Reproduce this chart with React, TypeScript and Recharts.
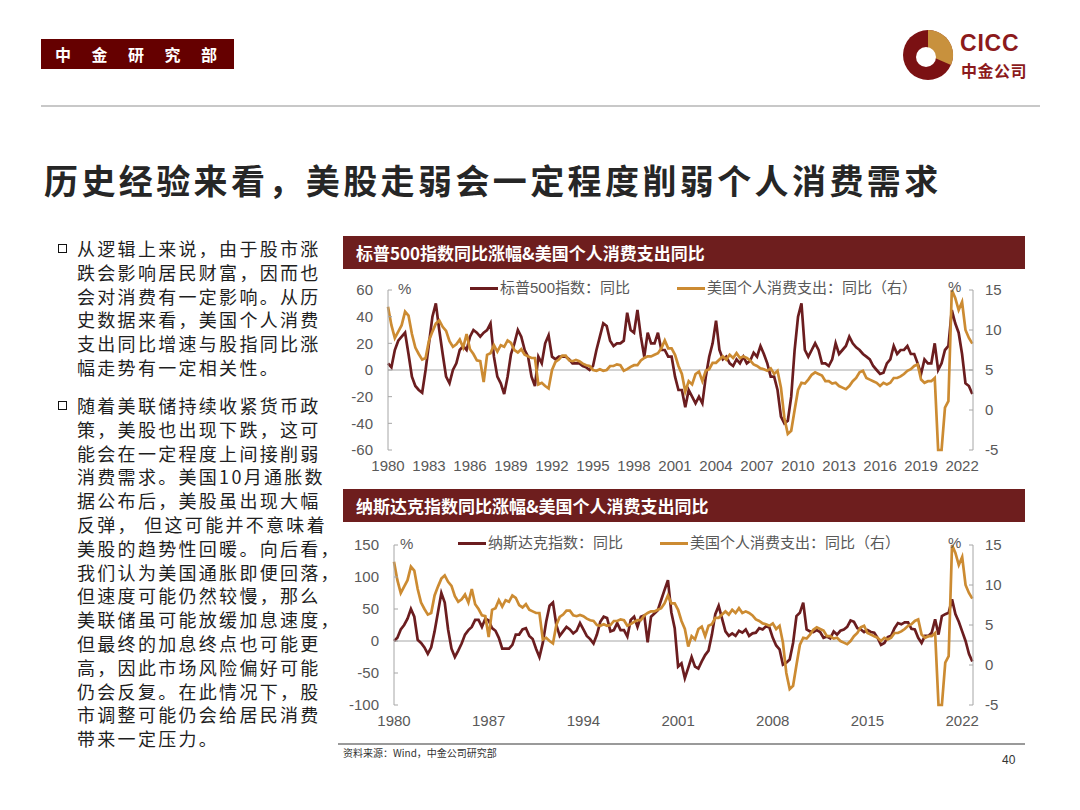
import React from 'react';
import { LineChart, Line, XAxis, YAxis, ReferenceLine, Legend } from 'recharts';

// quarterly readings, 1980Q1 .. 2022Q4
const START_YEAR = 1980;

const spxYoy = [
  5, 2, 15, 22,
  25, 28, 12, -5,
  -12, -15, -17, 0,
  20, 40, 50, 30,
  12, -5, -10, 0,
  5, 15, 18, 15,
  25, 30, 28, 25,
  28, 30, 35, 10,
  -5, -10, -18, -5,
  12, 20, 30, 25,
  15, 10, -5, -12,
  10, 5, 20, 26,
  10, 8, 10, 10,
  10, 8, 5, 5,
  5, 3, 2, 0,
  3, 15, 25, 35,
  33, 22, 18, 20,
  20, 22, 43, 30,
  28, 45, 25, 10,
  28, 20, 20, 28,
  15, 15, 10, 10,
  -5, -15, -15, -28,
  -15, -20, -25, -20,
  -25, -5, 10, 20,
  37, 15, 8, 10,
  5, 3, 8, 5,
  10, 5, 7, 13,
  10, 18, 12, 5,
  -5, -5, -15, -35,
  -40, -38, -20, 15,
  40, 50, 15, 10,
  15, 20, 15, 5,
  5, 3, 8, 20,
  12, 15, 18, 25,
  20, 17, 15, 12,
  10, 8, 3, 0,
  -3, -2, 5, 8,
  18, 12, 15, 15,
  18, 12, 12, 5,
  -3, 8, 5, 5,
  20, 0, 5, 15,
  18, 45, 35, 28,
  12, -10, -12, -18,
];

const ndxYoy = [
  0, 5, 18, 25,
  35, 50, 38, 2,
  -3, -10, -20, -10,
  15, 45, 75, 60,
  18, -12, -25, -15,
  -4, 10, 17, 22,
  33, 33, 22, 35,
  32, 20, 16, 5,
  -12, -12, -12, -6,
  10, 10, 18, 20,
  8, 3, -12, -25,
  -3, 30, 55, 60,
  25, 8, 15, 22,
  18, 12, 16, 28,
  18, 8, 3, -4,
  10, 30, 38, 36,
  15, 17, 28, 17,
  17, 7, 33, 38,
  22, 38, 40, -2,
  38, 43, 48, 64,
  80, 95, 45, 20,
  -40, -35, -58, -42,
  -25, -40, -43, -32,
  -22, -15, 10, 42,
  55, 35, 15, 8,
  12, 8, 16, 13,
  18, 8, 12, 13,
  20, 18, 23, 21,
  5, -7, -13, -37,
  -34, -29, -3, 39,
  44, 60, 18, 15,
  14, 17, 14, 5,
  7, 4, 15, 10,
  16, 18, 22, 32,
  30, 20, 18, 14,
  17, 14, 13, 5,
  -6, -3, 6, 8,
  20, 28, 26, 29,
  29, 19, 18, 5,
  -3, 8, 8, 13,
  34, 10, 39, 42,
  44, 65, 42, 30,
  15, 0, -20, -32,
];

const pceYoy = [
  12.9, 10.6, 9.0, 9.8,
  10.6, 12.3, 11.8, 9.5,
  7.8, 7.0, 6.3, 6.5,
  8.7, 9.8, 10.8, 11.2,
  10.4, 9.9, 8.6, 7.9,
  8.2, 8.8, 7.8, 9.5,
  7.6, 7.0, 6.2, 6.1,
  3.5, 6.9, 7.1, 8.1,
  7.3, 8.1, 7.9, 8.7,
  8.4, 7.5, 7.2, 7.6,
  6.9, 6.7, 6.5, 6.5,
  3.2, 3.4, 3.0, 2.7,
  5.0, 6.0, 6.3, 6.8,
  6.8, 6.2, 6.1, 6.25,
  6.1, 5.8, 5.6, 5.5,
  5.0, 4.9, 5.1, 4.9,
  5.0, 5.5, 5.5, 5.7,
  5.6, 4.9, 5.1, 5.4,
  5.6, 5.6, 6.2, 6.5,
  6.7, 6.7, 6.9, 7.1,
  7.7, 8.7, 7.7, 7.7,
  6.9, 5.5, 4.5, 2.3,
  3.6, 3.2, 4.5, 4.8,
  3.6, 4.9, 5.1, 5.9,
  5.9, 6.3, 6.7, 6.3,
  6.9, 6.5, 7.1, 6.5,
  6.7, 6.5, 6.2, 5.7,
  5.5, 5.2, 5.1, 4.9,
  5.2, 4.5, 4.9, 2.8,
  -1.0, -3.0, -2.6, 0.0,
  2.5, 3.4, 3.3, 3.8,
  4.4, 4.7, 4.5, 4.3,
  3.6, 3.6, 3.3, 3.4,
  3.0, 2.8, 2.6, 3.0,
  3.6, 4.0, 4.7, 4.9,
  4.0, 3.8, 3.6, 3.4,
  3.0, 3.4, 3.2, 3.4,
  4.0, 4.0, 4.2, 4.5,
  4.9, 5.1, 5.5, 5.7,
  3.8, 3.4, 3.6, 3.6,
  4.0, -5, -5, 0.3,
  1.1, 15, 14.0, 12.5,
  13.5, 10.0, 9.0, 8.3,
];

const yearTicks1 = [1980, 1983, 1986, 1989, 1992, 1995, 1998, 2001, 2004, 2007, 2010, 2013, 2016, 2019, 2022];
const yearTicks2 = [1980, 1987, 1994, 2001, 2008, 2015, 2022];
const spxTicks = [-60, -40, -20, 0, 20, 40, 60];
const ndxTicks = [-100, -50, 0, 50, 100, 150];
const pceTicks = [-5, 0, 5, 10, 15];

const quarters = pceYoy.map((_, i) => START_YEAR + i / 4);
const spxData = quarters.map((t, i) => ({ t, stock: spxYoy[i], pce: pceYoy[i] }));
const ndxData = quarters.map((t, i) => ({ t, stock: ndxYoy[i], pce: pceYoy[i] }));

const para1 = [
  '从逻辑上来说，由于股市涨',
  '跌会影响居民财富，因而也',
  '会对消费有一定影响。从历',
  '史数据来看，美国个人消费',
  '支出同比增速与股指同比涨',
  '幅走势有一定相关性。',
];
const para2 = [
  '随着美联储持续收紧货币政',
  '策，美股也出现下跌，这可',
  '能会在一定程度上间接削弱',
  '消费需求。美国10月通胀数',
  '据公布后，美股虽出现大幅',
  '反弹， 但这可能并不意味着',
  '美股的趋势性回暖。向后看，',
  '我们认为美国通胀即便回落，',
  '但速度可能仍然较慢，那么',
  '美联储虽可能放缓加息速度，',
  '但最终的加息终点也可能更',
  '高，因此市场风险偏好可能',
  '仍会反复。在此情况下，股',
  '市调整可能仍会给居民消费',
  '带来一定压力。',
];

const DARK = '#6b1d1f';
const GOLD = '#cc8b32';
const AXIS = '#a6a6a6';
const LABEL = '#595959';
const CJK = '"Noto Sans CJK SC", sans-serif';
const NUM = '"Liberation Sans", "Noto Sans CJK SC", sans-serif';

function LegendRow({ payload, gap }: any) {
  return (
    <div style={{ display: 'flex', alignItems: 'center', whiteSpace: 'nowrap', fontSize: 15, color: LABEL, lineHeight: '20px' }}>
      {(payload || []).map((p: any, i: number) => (
        <div key={p.value} style={{ display: 'flex', alignItems: 'center', marginLeft: i === 0 ? 0 : gap }}>
          <span style={{ display: 'inline-block', width: 28, height: 3, background: p.color, marginRight: 2 }} />
          <span>{p.value}</span>
        </div>
      ))}
    </div>
  );
}

function DualChart({ top, data, stockName, stockDomain, stockTicks, yearTicks, leftWidth, legendLeft, legendGap }: any) {
  return (
    <div style={{ position: 'absolute', left: 336, top, fontFamily: NUM }}>
      <LineChart width={677} height={205} data={data} margin={{ top: 20, right: 0, bottom: 0, left: 0 }}>
        <XAxis
          dataKey="t"
          type="number"
          domain={[1980, 2022.8]}
          ticks={yearTicks}
          interval={0}
          axisLine={false}
          tickLine={false}
          tickMargin={4}
          height={25}
          tick={{ fill: LABEL, fontSize: 15 }}
        />
        <YAxis
          yAxisId="left"
          domain={stockDomain}
          ticks={stockTicks}
          interval={0}
          width={leftWidth}
          axisLine={{ stroke: AXIS }}
          tickLine={{ stroke: AXIS }}
          tickSize={-4}
          tickMargin={19}
          tick={{ fill: LABEL, fontSize: 15 }}
        />
        <YAxis
          yAxisId="right"
          orientation="right"
          domain={[-5, 15]}
          ticks={pceTicks}
          interval={0}
          width={40}
          axisLine={{ stroke: AXIS }}
          tickLine={{ stroke: AXIS }}
          tickSize={-4}
          tickMargin={16}
          tick={{ fill: LABEL, fontSize: 15 }}
        />
        <ReferenceLine yAxisId="left" y={0} stroke={AXIS} strokeWidth={1} />
        <Legend
          layout="horizontal"
          verticalAlign="middle"
          align="center"
          wrapperStyle={{ top: 8, left: legendLeft, width: 'auto', fontFamily: NUM }}
          content={(props: any) => <LegendRow {...props} gap={legendGap} />}
        />
        <Line yAxisId="left" dataKey="stock" name={stockName} stroke={DARK} strokeWidth={2.7} dot={false} isAnimationActive={false} />
        <Line yAxisId="right" dataKey="pce" name="美国个人消费支出：同比（右）" stroke={GOLD} strokeWidth={2.7} dot={false} isAnimationActive={false} />
      </LineChart>
    </div>
  );
}

function TitleBar({ top, text }: any) {
  return (
    <div style={{ position: 'absolute', left: 343, top, width: 682, height: 33, background: '#6e1e1e', color: '#fff', fontFamily: CJK, fontWeight: 700, fontSize: 17, lineHeight: '33px', paddingLeft: 13, boxSizing: 'border-box' }}>
      {text}
    </div>
  );
}

function Unit({ left, top }: any) {
  return <div style={{ position: 'absolute', left, top, fontFamily: NUM, fontSize: 15, color: LABEL, lineHeight: '16px' }}>%</div>;
}

function Paragraph({ top, lines }: any) {
  return (
    <div style={{ position: 'absolute', left: 0, top }}>
      <span style={{ position: 'absolute', left: 58, top: 8, width: 7, height: 7, border: '1.5px solid #111' }} />
      {lines.map((l: string, i: number) => (
        <div key={i} style={{ position: 'absolute', left: 77, top: i * 23.8, whiteSpace: 'nowrap', fontFamily: CJK, fontSize: 18, letterSpacing: 2.3, lineHeight: '24px', color: '#1f1f1f' }}>
          {l}
        </div>
      ))}
    </div>
  );
}

export default function App() {
  return (
    <div style={{ position: 'absolute', left: 0, top: 0, width: 1080, height: 810, background: '#fff', overflow: 'hidden' }}>
      <div style={{ position: 'absolute', left: 41, top: 39, width: 193, height: 30, background: '#650000', color: '#fff', fontFamily: CJK, fontWeight: 700, fontSize: 16, lineHeight: '30px', paddingLeft: 14, letterSpacing: 20.5, boxSizing: 'border-box', whiteSpace: 'nowrap' }}>
        中金研究部
      </div>
      <svg style={{ position: 'absolute', left: 900, top: 27 }} width={56} height={56} viewBox="0 0 56 56">
        <circle cx={28} cy={28} r={25} fill="#7b1113" />
        <path d="M28 3 A25 25 0 0 1 51 38 L28 28 Z" fill="#c8913d" />
        <circle cx={26} cy={30} r={10} fill="#fff" />
      </svg>
      <div style={{ position: 'absolute', left: 960, top: 32, fontFamily: NUM, fontWeight: 700, fontSize: 23, color: '#8c1a1c', letterSpacing: 0.8, lineHeight: '23px' }}>CICC</div>
      <div style={{ position: 'absolute', left: 961, top: 62, fontFamily: CJK, fontWeight: 700, fontSize: 16, color: '#8c1a1c', letterSpacing: 0.5, lineHeight: '17px' }}>中金公司</div>
      <div style={{ position: 'absolute', left: 41, top: 105, width: 999, height: 2, background: '#c8c8c8' }} />

      <div style={{ position: 'absolute', left: 44, top: 157, fontFamily: CJK, fontWeight: 700, fontSize: 34, letterSpacing: 3.4, color: '#262626', lineHeight: '46px', whiteSpace: 'nowrap' }}>
        历史经验来看，美股走弱会一定程度削弱个人消费需求
      </div>

      <Paragraph top={236} lines={para1} />
      <Paragraph top={393} lines={para2} />

      <TitleBar top={236} text="标普500指数同比涨幅&美国个人消费支出同比" />
      <DualChart
        top={270}
        data={spxData}
        stockName="标普500指数：同比"
        stockDomain={[-60, 60]}
        stockTicks={spxTicks}
        yearTicks={yearTicks1}
        leftWidth={52}
        legendLeft={134}
        legendGap={47}
      />
      <Unit left={398} top={281} />
      <Unit left={948} top={279} />

      <TitleBar top={489} text="纳斯达克指数同比涨幅&美国个人消费支出同比" />
      <DualChart
        top={525}
        data={ndxData}
        stockName="纳斯达克指数：同比"
        stockDomain={[-100, 150]}
        stockTicks={ndxTicks}
        yearTicks={yearTicks2}
        leftWidth={58}
        legendLeft={122}
        legendGap={37}
      />
      <Unit left={400} top={536} />
      <Unit left={948} top={535} />

      <div style={{ position: 'absolute', left: 338, top: 743, width: 687, height: 2, background: '#9a9a9a' }} />
      <div style={{ position: 'absolute', left: 343, top: 746, fontFamily: CJK, fontSize: 10, color: '#333', lineHeight: '14px' }}>资料来源：Wind，中金公司研究部</div>
      <div style={{ position: 'absolute', left: 1002, top: 752, fontFamily: NUM, fontSize: 12, color: '#333', lineHeight: '16px' }}>40</div>
    </div>
  );
}
